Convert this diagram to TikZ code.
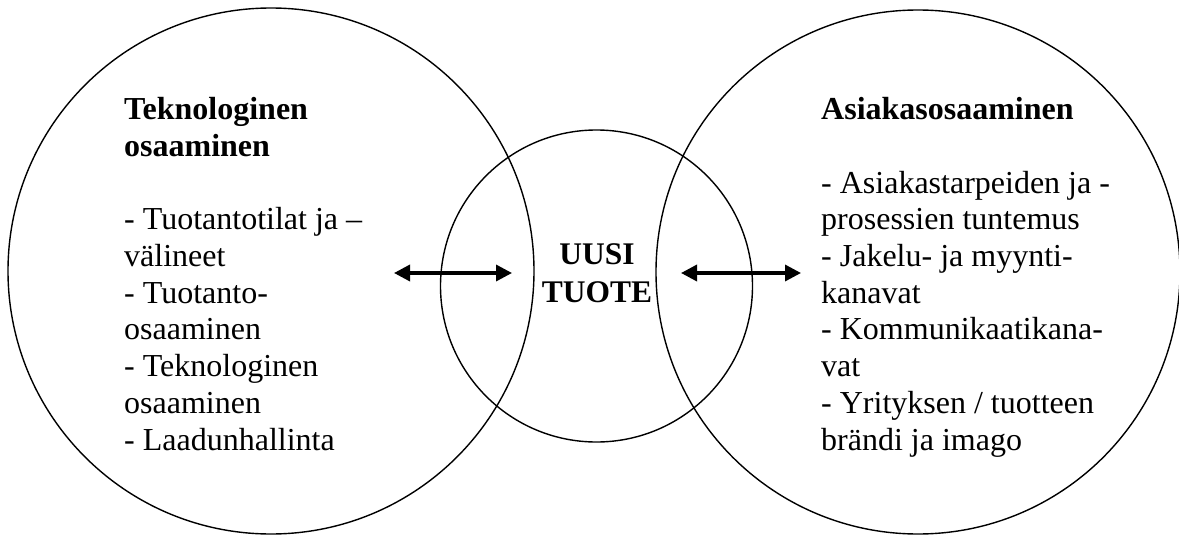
\documentclass[tikz,border=0pt]{standalone}
\usepackage{fontspec}
\setmainfont{Liberation Serif}
\usetikzlibrary{arrows.meta}
\begin{document}
\begin{tikzpicture}[x=1pt,y=-1pt,
  ring/.style={circle,draw,line width=1.4pt,inner sep=0pt},
  body/.style={anchor=base west,align=left,inner sep=0pt,
    font=\fontsize{32}{36.67}\selectfont},
  center/.style={anchor=base,align=center,inner sep=0pt,
    font=\fontsize{31.5}{38.6}\selectfont\bfseries},
  link/.style={line width=3.4pt,
    {Triangle[length=16pt,width=16pt]}-{Triangle[length=16pt,width=16pt]}}]
  \useasboundingbox (0,0) rectangle (1179,535);
  \clip (0,0) rectangle (1179,535);

  % the three overlapping circles
  \node[ring,minimum size=526pt] (tech) at (271,271) {};
  \node[ring,minimum size=524pt] (cust) at (918,272) {};
  \node[ring,minimum size=312pt] (prod) at (596.5,286) {};

  % left block (placed by the baseline of its last line)
  \node[body] (techtxt) at (124,450) {\textbf{Teknologinen}\\
    \textbf{osaaminen}\\[36.67pt]
    - Tuotantotilat ja –\\
    välineet\\
    - Tuotanto-\\
    osaaminen\\
    - Teknologinen\\
    osaaminen\\
    - Laadunhallinta};

  % right block
  \node[body] (custtxt) at (821,450) {\textbf{Asiakasosaaminen}\\[36.67pt]
    - Asiakastarpeiden ja -\\
    prosessien tuntemus\\
    - Jakelu- ja myynti-\\
    kanavat\\
    - Kommunikaatikana-\\
    vat\\
    - Yrityksen / tuotteen\\
    brändi ja imago};

  % centre label
  \node[center] (newprod) at (597,302.7) {UUSI\\TUOTE};

  % two-way arrows
  \coordinate (la) at (394,273);
  \coordinate (lb) at (512,273);
  \coordinate (ra) at (681,273);
  \coordinate (rb) at (801,273);
  \draw[link] (la) -- (lb);
  \draw[link] (ra) -- (rb);
\end{tikzpicture}
\end{document}
